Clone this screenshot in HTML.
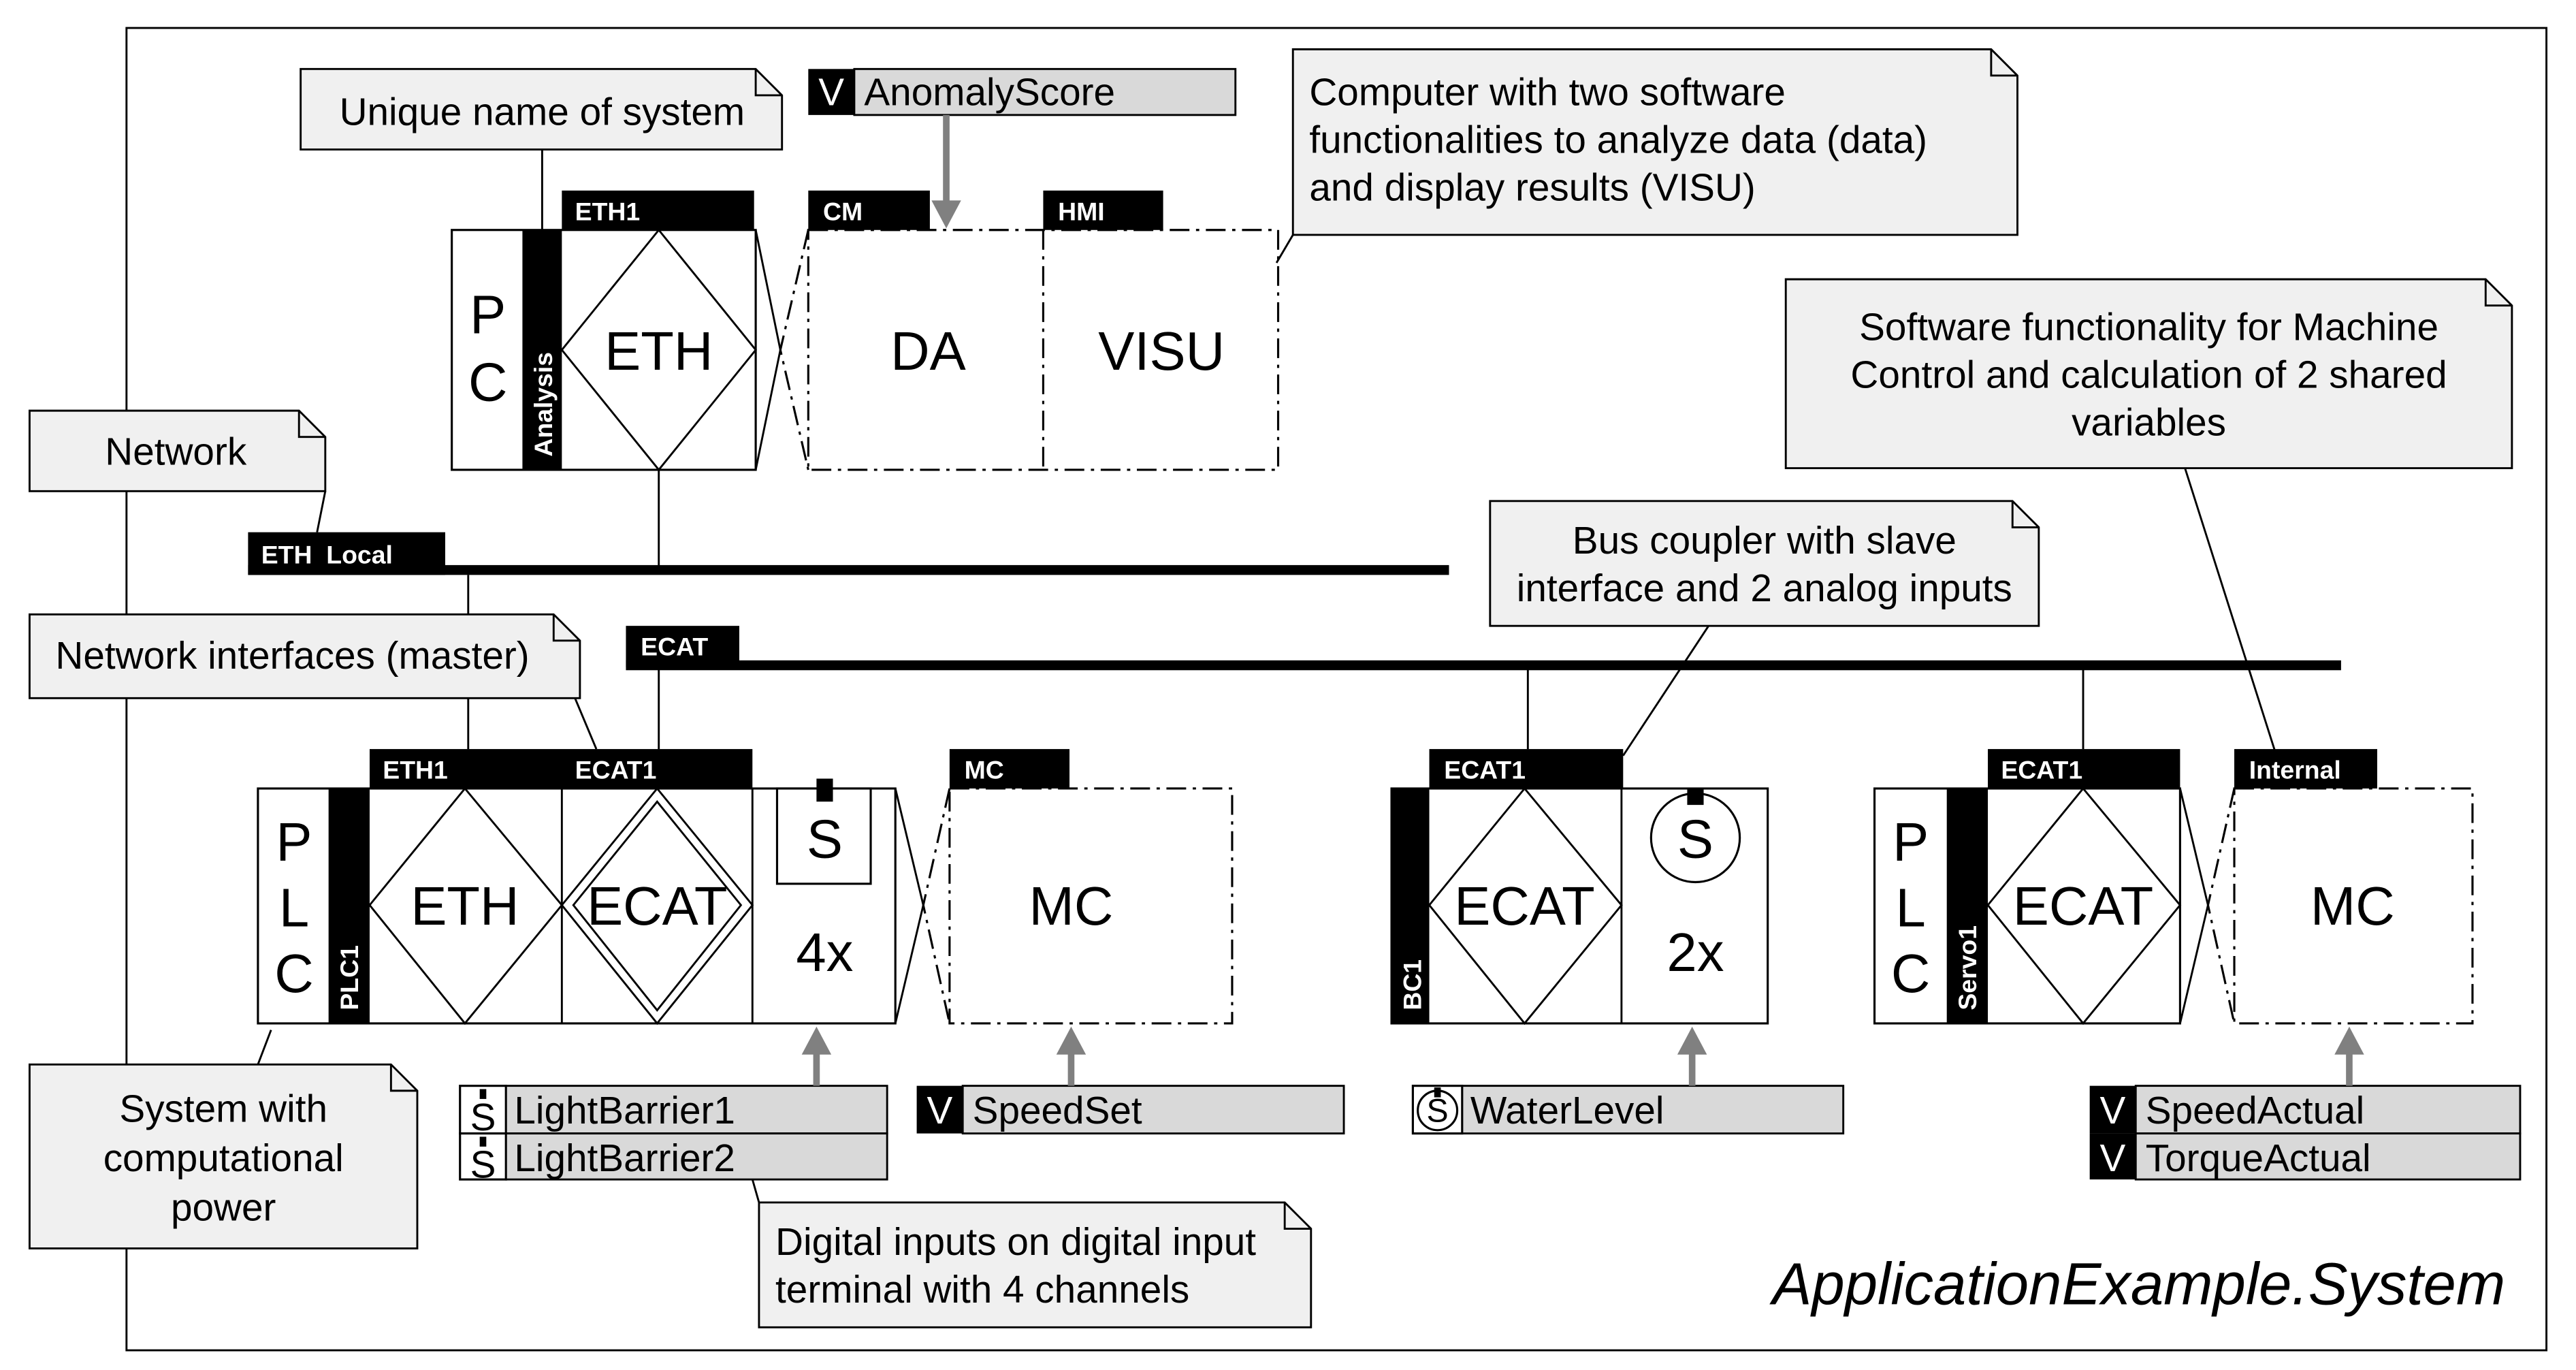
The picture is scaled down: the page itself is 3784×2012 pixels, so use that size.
<!DOCTYPE html>
<html><head><meta charset="utf-8"><style>
html,body{margin:0;padding:0;background:#fff}
svg{display:block}
text{font-family:"Liberation Sans",Arial,sans-serif}
.n{fill:#f0f0f0;stroke:#000;stroke-width:1.2}
.t{font-size:23.5px;fill:#000}
.lb{fill:#000}
.lt{font-size:15.5px;font-weight:bold;fill:#fff}
.b{fill:#fff;stroke:#000;stroke-width:1.3}
.l{stroke:#000;stroke-width:1.2;fill:none}
.dd{stroke:#000;stroke-width:1.3;fill:none;stroke-dasharray:12 4 2 4}
.big{font-size:33px;fill:#000}
.g{fill:#d9d9d9;stroke:#000;stroke-width:1.2}
</style></head><body>
<svg width="3784" height="2012" viewBox="0 0 1568 834" preserveAspectRatio="none" xmlns="http://www.w3.org/2000/svg">
<path d="M77,17 H1550 V822 H77 Z" class="l"/>

<g>
<path class="n" d="M183,42 H460 L476,58 V91 H183 Z"/><path class="l" d="M460,42 V58 H476"/>
<text class="t" x="330" y="76" text-anchor="middle">Unique name of system</text>
<path class="n" d="M787,30 H1212 L1228,46 V143 H787 Z"/><path class="l" d="M1212,30 V46 H1228"/>
<text class="t" x="797" y="64">Computer with two software</text>
<text class="t" x="797" y="93">functionalities to analyze data (data)</text>
<text class="t" x="797" y="122">and display results (VISU)</text>
<path class="n" d="M18,250 H182 L198,266 V299 H18 Z"/><path class="l" d="M182,250 V266 H198"/>
<text class="t" x="107" y="283" text-anchor="middle">Network</text>
<path class="n" d="M1087,170 H1513 L1529,186 V285 H1087 Z"/><path class="l" d="M1513,170 V186 H1529"/>
<text class="t" x="1308" y="207" text-anchor="middle">Software functionality for Machine</text>
<text class="t" x="1308" y="236" text-anchor="middle">Control and calculation of 2 shared</text>
<text class="t" x="1308" y="265" text-anchor="middle">variables</text>
<path class="n" d="M907,305 H1225 L1241,321 V381 H907 Z"/><path class="l" d="M1225,305 V321 H1241"/>
<text class="t" x="1074" y="337" text-anchor="middle">Bus coupler with slave</text>
<text class="t" x="1074" y="366" text-anchor="middle">interface and 2 analog inputs</text>
<path class="n" d="M18,374 H337 L353,390 V425 H18 Z"/><path class="l" d="M337,374 V390 H353"/>
<text class="t" x="178" y="407" text-anchor="middle">Network interfaces (master)</text>
<path class="n" d="M18,648 H238 L254,664 V760 H18 Z"/><path class="l" d="M238,648 V664 H254"/>
<text class="t" x="136" y="683" text-anchor="middle">System with</text>
<text class="t" x="136" y="713" text-anchor="middle">computational</text>
<text class="t" x="136" y="743" text-anchor="middle">power</text>
<path class="n" d="M462,732 H782 L798,748 V808 H462 Z"/><path class="l" d="M782,732 V748 H798"/>
<text class="t" x="472" y="764">Digital inputs on digital input</text>
<text class="t" x="472" y="793">terminal with 4 channels</text>
</g>

<path class="l" d="M330,91 V140 M787,143 L777,160 M198,299 L193,324 M285,350 V374 M285,425 V456 M350,425 L363,456 M165,627 L157,648 M1040,381 L988,460 M1330,285 L1385,458 M401,286 V346 M401,406 V456 M930,406 V456 M1268,406 V456 M458,718 L462,732"/>

<rect x="151" y="324" width="120" height="26" class="lb"/><text class="lt" x="159" y="343">ETH_Local</text>
<rect x="151" y="344" width="731" height="6" class="lb"/>
<rect x="381" y="381" width="69" height="25" class="lb"/><text class="lt" x="390" y="399">ECAT</text>
<rect x="381" y="402" width="1044" height="6" class="lb"/>

<rect x="275" y="140" width="185" height="146" class="b"/>
<rect x="318" y="140" width="24" height="146" class="lb"/>
<text class="lt" transform="translate(336,278) rotate(-90)">Analysis</text>
<text class="big" x="297" y="203" text-anchor="middle">P</text>
<text class="big" x="297" y="244" text-anchor="middle">C</text>
<path class="l" d="M342,213 L401,140 L460,213 L401,286 Z"/>
<text class="big" x="401" y="225" text-anchor="middle">ETH</text>
<rect x="342" y="116" width="117" height="24" class="lb"/><text class="lt" x="350" y="134">ETH1</text>
<path class="l" d="M460,140 L475,213 L460,286"/>
<path class="dd" d="M492,140 L475,213 L492,286"/>
<path class="dd" d="M492,140 H778 V286 H492 Z M635,140 V286"/>
<text class="big" x="565" y="225" text-anchor="middle">DA</text>
<text class="big" x="707" y="225" text-anchor="middle">VISU</text>
<rect x="492" y="116" width="74" height="24" class="lb"/><text class="lt" x="501" y="134">CM</text>
<rect x="635" y="116" width="73" height="24" class="lb"/><text class="lt" x="644" y="134">HMI</text>

<rect x="492" y="42" width="28" height="28" class="lb"/><text class="t" x="506" y="64" text-anchor="middle" style="fill:#fff">V</text>
<rect x="520" y="42" width="232" height="28" class="g"/><text class="t" x="526" y="64">AnomalyScore</text>
<path d="M576,70 V128" stroke="#808080" stroke-width="4"/><path d="M567,122 L576,139 L585,122 Z" fill="#808080"/>

<rect x="157" y="480" width="388" height="143" class="b"/>
<path class="l" d="M342,480 V623 M458,480 V623"/>
<rect x="200" y="480" width="25" height="143" class="lb"/>
<text class="lt" transform="translate(218,615) rotate(-90)">PLC1</text>
<text class="big" x="179" y="524" text-anchor="middle">P</text>
<text class="big" x="179" y="564" text-anchor="middle">L</text>
<text class="big" x="179" y="604" text-anchor="middle">C</text>
<path class="l" d="M225,551 L283,480 L342,551 L283,623 Z"/>
<text class="big" x="283" y="563" text-anchor="middle">ETH</text>
<path class="l" d="M342,551 L400,480 L458,551 L400,623 Z M349,551 L400,488 L451,551 L400,615 Z"/>
<text class="big" x="400" y="563" text-anchor="middle">ECAT</text>
<rect x="473" y="480" width="57" height="58" class="b"/>
<rect x="497" y="474" width="10" height="14" class="lb"/>
<text class="big" x="502" y="522" text-anchor="middle">S</text>
<text class="big" x="502" y="591" text-anchor="middle">4x</text>
<rect x="225" y="456" width="233" height="24" class="lb"/><text class="lt" x="233" y="474">ETH1</text><text class="lt" x="350" y="474">ECAT1</text>
<path class="l" d="M545,480 L562,551 L545,623"/>
<path class="dd" d="M578,480 L562,551 L578,623"/>
<path class="dd" d="M578,480 H750 V623 H578 Z"/>
<text class="big" x="652" y="563" text-anchor="middle">MC</text>
<rect x="578" y="456" width="73" height="24" class="lb"/><text class="lt" x="587" y="474">MC</text>

<rect x="280" y="661" width="28" height="29" class="b"/><rect x="308" y="661" width="232" height="29" class="g"/>
<rect x="280" y="690" width="28" height="28" class="b"/><rect x="308" y="690" width="232" height="28" class="g"/>
<rect x="292" y="663" width="4" height="6" class="lb"/><rect x="292" y="692" width="4" height="6" class="lb"/>
<text class="t" x="294" y="688" text-anchor="middle">S</text><text class="t" x="294" y="717" text-anchor="middle">S</text>
<text class="t" x="313" y="684">LightBarrier1</text><text class="t" x="313" y="713">LightBarrier2</text>
<path d="M497,661 V636" stroke="#808080" stroke-width="4"/><path d="M488,642 L497,625 L506,642 Z" fill="#808080"/>

<rect x="558" y="661" width="28" height="29" class="lb"/><text class="t" x="572" y="684" text-anchor="middle" style="fill:#fff">V</text>
<rect x="586" y="661" width="232" height="29" class="g"/><text class="t" x="592" y="684">SpeedSet</text>
<path d="M652,661 V636" stroke="#808080" stroke-width="4"/><path d="M643,642 L652,625 L661,642 Z" fill="#808080"/>

<rect x="847" y="480" width="229" height="143" class="b"/>
<path class="l" d="M987,480 V623"/>
<rect x="847" y="480" width="23" height="143" class="lb"/>
<text class="lt" transform="translate(865,615) rotate(-90)">BC1</text>
<path class="l" d="M870,551 L928,480 L987,551 L928,623 Z"/>
<text class="big" x="928" y="563" text-anchor="middle">ECAT</text>
<circle cx="1032" cy="510" r="27" class="b"/>
<rect x="1027" y="480" width="10" height="10" class="lb"/>
<text class="big" x="1032" y="522" text-anchor="middle">S</text>
<text class="big" x="1032" y="591" text-anchor="middle">2x</text>
<rect x="870" y="456" width="118" height="24" class="lb"/><text class="lt" x="879" y="474">ECAT1</text>

<rect x="860" y="661" width="262" height="29" class="g"/><rect x="860" y="661" width="30" height="29" class="b"/>
<circle cx="875" cy="676" r="12" class="b"/><rect x="873" y="662" width="4" height="6" class="lb"/>
<text style="font-size:20px" x="875" y="683" text-anchor="middle">S</text>
<text class="t" x="895" y="684">WaterLevel</text>
<path d="M1030,661 V636" stroke="#808080" stroke-width="4"/><path d="M1021,642 L1030,625 L1039,642 Z" fill="#808080"/>

<rect x="1141" y="480" width="186" height="143" class="b"/>
<rect x="1185" y="480" width="25" height="143" class="lb"/>
<text class="lt" transform="translate(1203,615) rotate(-90)">Servo1</text>
<text class="big" x="1163" y="524" text-anchor="middle">P</text>
<text class="big" x="1163" y="564" text-anchor="middle">L</text>
<text class="big" x="1163" y="604" text-anchor="middle">C</text>
<path class="l" d="M1210,551 L1268,480 L1327,551 L1268,623 Z"/>
<text class="big" x="1268" y="563" text-anchor="middle">ECAT</text>
<rect x="1210" y="456" width="117" height="24" class="lb"/><text class="lt" x="1218" y="474">ECAT1</text>
<path class="l" d="M1327,480 L1344,551 L1327,623"/>
<path class="dd" d="M1360,480 L1344,551 L1360,623"/>
<path class="dd" d="M1360,480 H1505 V623 H1360 Z"/>
<text class="big" x="1432" y="563" text-anchor="middle">MC</text>
<rect x="1360" y="456" width="87" height="24" class="lb"/><text class="lt" x="1369" y="474">Internal</text>

<rect x="1272" y="661" width="28" height="29" class="lb"/><rect x="1272" y="690" width="28" height="28" class="lb"/>
<text class="t" x="1286" y="684" text-anchor="middle" style="fill:#fff">V</text><text class="t" x="1286" y="713" text-anchor="middle" style="fill:#fff">V</text>
<rect x="1300" y="661" width="234" height="29" class="g"/><rect x="1300" y="690" width="234" height="28" class="g"/>
<text class="t" x="1306" y="684">SpeedActual</text><text class="t" x="1306" y="713">TorqueActual</text>
<path d="M1430,661 V636" stroke="#808080" stroke-width="4"/><path d="M1421,642 L1430,625 L1439,642 Z" fill="#808080"/>

<text x="1525" y="794" text-anchor="end" style="font-size:36px;font-style:italic">ApplicationExample.System</text>
</svg>
</body></html>
